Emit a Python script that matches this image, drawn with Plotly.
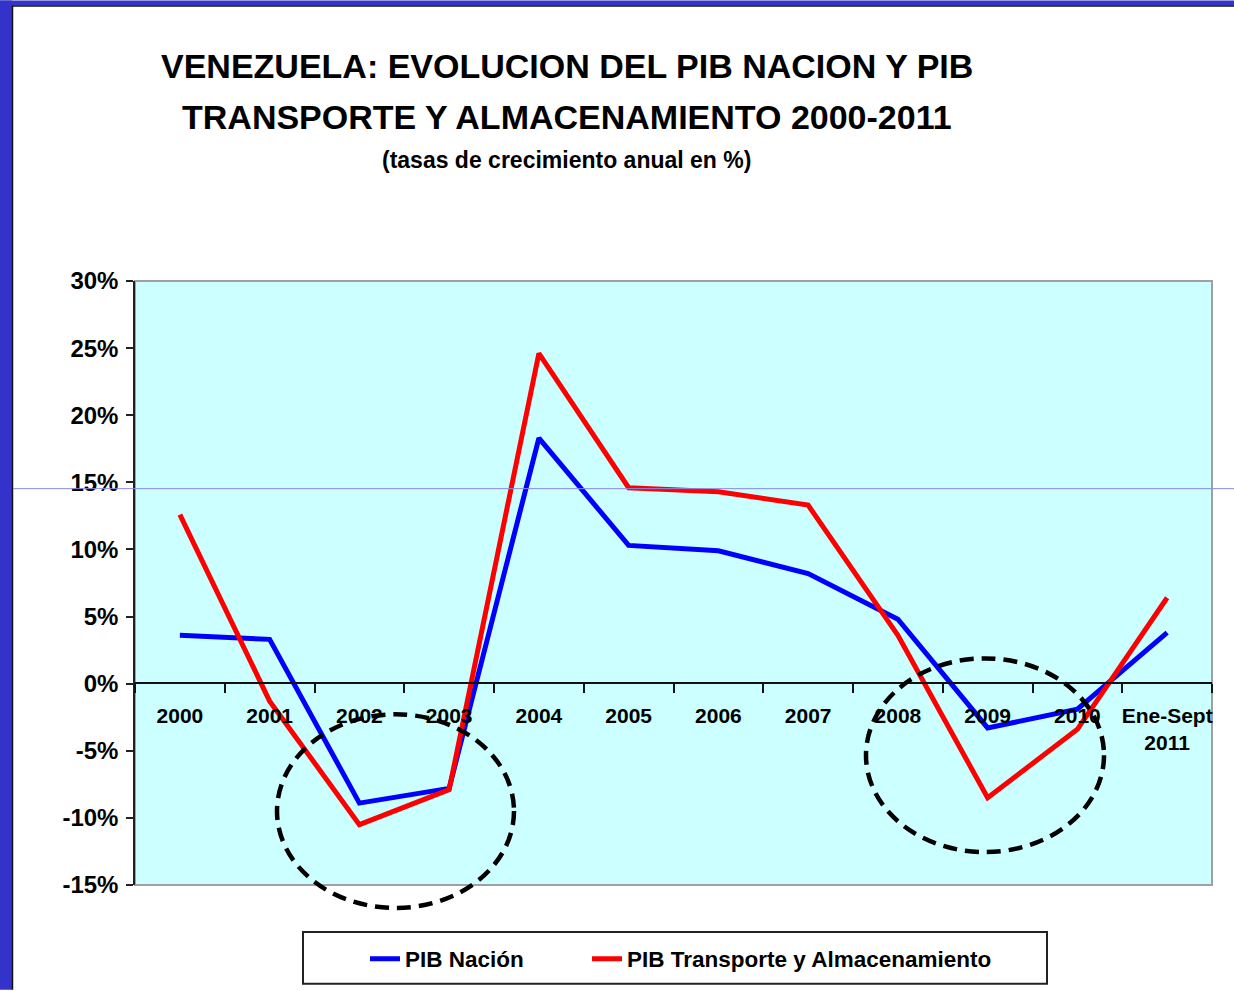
import plotly.graph_objects as go

# ---- data ----
categories = ["2000", "2001", "2002", "2003", "2004", "2005", "2006",
              "2007", "2008", "2009", "2010", "Ene-Sept<br>2011"]
pib_nacion = [3.6, 3.3, -8.9, -7.8, 18.3, 10.3, 9.9, 8.2, 4.8, -3.3, -1.9, 3.8]
pib_transporte = [12.6, -1.3, -10.5, -7.9, 24.6, 14.6, 14.3, 13.3, 3.6, -8.5, -3.4, 6.4]
y_ticks = [-15, -10, -5, 0, 5, 10, 15, 20, 25, 30]
y_ticktext = [f"{v}%" for v in y_ticks]

W, H = 1234, 991
L, R, T, B = 135, 1212, 281, 886
FONT = "Liberation Sans, Arial, sans-serif"


def px_x(p):
    return (p - L) / (R - L)


def px_y(p):
    return (B - p) / (B - T)


fig = go.Figure()

fig.add_trace(go.Scatter(
    x=categories, y=pib_nacion, mode="lines",
    name="PIB Nación", line=dict(color="#0000FF", width=5),
    legend="legend",
))
fig.add_trace(go.Scatter(
    x=categories, y=pib_transporte, mode="lines",
    name="PIB Transporte y Almacenamiento", line=dict(color="#FF0000", width=5),
    legend="legend2",
))

shapes = []
# slide frame: blue bars and thin inner line
shapes.append(dict(type="rect", xref="paper", yref="paper", x0=px_x(0), x1=px_x(12),
                   y0=px_y(0), y1=px_y(H), fillcolor="#3333CC", line_width=0, layer="below"))
shapes.append(dict(type="rect", xref="paper", yref="paper", x0=px_x(0), x1=px_x(W),
                   y0=px_y(0), y1=px_y(5), fillcolor="#3333CC", line_width=0, layer="below"))
shapes.append(dict(type="line", xref="paper", yref="paper", x0=px_x(12.5), x1=px_x(12.5),
                   y0=px_y(5), y1=px_y(H), line=dict(color="#111111", width=1.5)))
shapes.append(dict(type="line", xref="paper", yref="paper", x0=px_x(12), x1=px_x(W),
                   y0=px_y(5.5), y1=px_y(5.5), line=dict(color="#111111", width=1.5)))
# thin stray guide line across the slide
shapes.append(dict(type="line", xref="paper", yref="paper", x0=px_x(13), x1=px_x(W),
                   y0=px_y(489), y1=px_y(489), line=dict(color="#8A8AE6", width=1)))
# plot area border
shapes.append(dict(type="rect", xref="paper", yref="paper", x0=0, x1=1, y0=0, y1=1,
                   line=dict(color="#A0A0A0", width=2), layer="below"))
# dashed ellipses
for x0, x1, y0, y1 in [(277, 514, 715, 909), (866, 1104, 659, 853)]:
    shapes.append(dict(type="circle", xref="paper", yref="paper",
                       x0=px_x(x0), x1=px_x(x1), y0=px_y(y1), y1=px_y(y0),
                       line=dict(color="black", width=4.5, dash="14px,8px")))
# legend box
shapes.append(dict(type="rect", xref="paper", yref="paper", x0=px_x(303), x1=px_x(1047),
                   y0=px_y(985), y1=px_y(933), line=dict(color="#222222", width=2),
                   fillcolor="white", layer="below"))

annotations = [
    dict(text="<b>VENEZUELA: EVOLUCION DEL PIB NACION Y PIB</b>", x=px_x(567), y=px_y(66),
         xref="paper", yref="paper", showarrow=False, xanchor="center", yanchor="middle",
         font=dict(size=34, family=FONT, color="black")),
    dict(text="<b>TRANSPORTE Y ALMACENAMIENTO 2000-2011</b>", x=px_x(567), y=px_y(117),
         xref="paper", yref="paper", showarrow=False, xanchor="center", yanchor="middle",
         font=dict(size=34, family=FONT, color="black")),
    dict(text="<b>(tasas de crecimiento anual en %)</b>", x=px_x(566), y=px_y(160),
         xref="paper", yref="paper", showarrow=False, xanchor="center", yanchor="middle",
         font=dict(size=23, family=FONT, color="black")),
]

legend_font = dict(size=22.5, family=FONT, color="black", weight="bold")

fig.update_layout(
    width=W, height=H,
    margin=dict(l=L, r=W - R, t=T, b=H - B, pad=0),
    paper_bgcolor="white",
    plot_bgcolor="#CCFFFF",
    font=dict(family=FONT, size=21, color="black", weight="bold"),
    showlegend=True,
    legend=dict(
        orientation="h", x=px_x(365), y=px_y(959), xanchor="left", yanchor="middle",
        bgcolor="rgba(0,0,0,0)", borderwidth=0, font=legend_font,
    ),
    legend2=dict(
        orientation="h", x=px_x(587), y=px_y(959), xanchor="left", yanchor="middle",
        bgcolor="rgba(0,0,0,0)", borderwidth=0, font=legend_font,
    ),
    xaxis=dict(
        type="category", range=[-0.5, len(categories) - 0.5],
        tickangle=0, tickson="boundaries",
        anchor="free", position=px_y(683.5),
        showline=True, linecolor="#111111", linewidth=1.5,
        ticks="outside", ticklen=9, tickcolor="#111111", tickwidth=1.5,
        showgrid=False, zeroline=False,
        ticklabelstandoff=14,
        tickfont=dict(size=21, family=FONT, color="black", weight="bold"),
    ),
    yaxis=dict(
        range=[-15, 30], tickmode="array", tickvals=y_ticks, ticktext=y_ticktext,
        showline=True, linecolor="#222222", linewidth=1.5,
        ticks="outside", ticklen=7, tickcolor="#222222", tickwidth=1.5,
        showgrid=False, zeroline=False, ticklabelstandoff=3,
        tickfont=dict(size=24, family=FONT, color="black", weight="bold"),
    ),
    shapes=shapes,
    annotations=annotations,
)

fig.write_html("out.html", config={"displayModeBar": False},
               post_script="document.body.style.margin='0';")
